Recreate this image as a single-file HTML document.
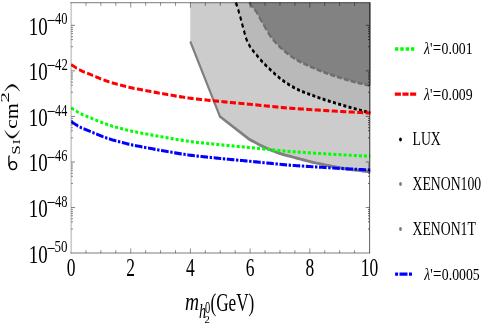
<!DOCTYPE html>
<html><head><meta charset="utf-8"><title>chart</title>
<style>html,body{margin:0;padding:0;background:#fff;}svg{display:block;will-change:transform;}text{font-family:"Liberation Serif",serif;}</style></head>
<body>
<svg width="491" height="327" viewBox="0 0 491 327">
<rect width="491" height="327" fill="#fff"/>
<defs><clipPath id="cp"><rect x="70.15" y="0" width="300.85" height="327"/></clipPath></defs>
<g transform="scale(1 1.4300)">
<path d="M190.30 1.82 L190.30 28.95 L219.90 81.47 L249.30 97.41 L251.10 98.08 L252.89 98.76 L254.68 99.43 L256.47 100.11 L258.26 100.78 L260.07 101.44 L261.89 102.09 L263.74 102.71 L265.62 103.32 L267.55 103.93 L269.52 104.53 L271.50 105.11 L273.47 105.68 L275.41 106.22 L277.29 106.72 L279.10 107.17 L280.80 107.57 L282.37 107.91 L283.87 108.20 L285.34 108.47 L286.85 108.73 L288.44 109.01 L290.17 109.33 L292.05 109.69 L294.04 110.07 L296.13 110.47 L298.28 110.88 L300.47 111.29 L302.68 111.71 L304.89 112.11 L307.06 112.50 L309.19 112.86 L311.30 113.22 L313.41 113.57 L315.52 113.91 L317.64 114.24 L319.75 114.57 L321.86 114.89 L323.98 115.20 L326.10 115.51 L328.21 115.81 L330.29 116.09 L332.36 116.37 L334.42 116.64 L336.50 116.91 L338.61 117.17 L340.75 117.42 L342.95 117.68 L345.22 117.93 L347.57 118.17 L349.98 118.41 L352.45 118.64 L354.97 118.87 L357.51 119.09 L360.08 119.32 L362.65 119.54 L365.22 119.76 L367.78 119.98 L370.30 120.21 L370.80 120.21 L370.80 1.82 L190.30 1.82 Z" fill="#cccccc"/>
<path d="M236.00 1.75 L236.29 2.40 L236.58 3.05 L236.86 3.69 L237.15 4.34 L237.44 4.99 L237.73 5.66 L238.02 6.33 L238.30 7.01 L238.59 7.70 L238.87 8.38 L239.16 9.08 L239.45 9.80 L239.74 10.53 L240.05 11.30 L240.37 12.10 L240.69 12.94 L241.03 13.82 L241.37 14.73 L241.72 15.65 L242.07 16.59 L242.43 17.53 L242.78 18.47 L243.15 19.39 L243.51 20.30 L243.86 21.20 L244.22 22.11 L244.56 23.03 L244.92 23.95 L245.27 24.86 L245.65 25.75 L246.03 26.61 L246.44 27.45 L246.87 28.24 L247.33 29.00 L247.80 29.71 L248.30 30.40 L248.80 31.07 L249.33 31.71 L249.87 32.34 L250.44 32.97 L251.02 33.59 L251.63 34.20 L252.26 34.79 L252.91 35.37 L253.57 35.94 L254.25 36.51 L254.94 37.08 L255.64 37.66 L256.34 38.26 L257.04 38.87 L257.75 39.49 L258.46 40.11 L259.19 40.73 L259.93 41.36 L260.69 41.98 L261.47 42.60 L262.27 43.21 L263.10 43.82 L263.96 44.44 L264.85 45.06 L265.74 45.67 L266.64 46.27 L267.54 46.87 L268.42 47.46 L269.29 48.04 L270.13 48.61 L270.94 49.16 L271.74 49.70 L272.53 50.23 L273.33 50.76 L274.13 51.28 L274.94 51.80 L275.78 52.32 L276.65 52.84 L277.53 53.35 L278.42 53.87 L279.32 54.38 L280.24 54.89 L281.17 55.39 L282.12 55.89 L283.08 56.38 L284.05 56.87 L285.05 57.36 L286.07 57.84 L287.10 58.33 L288.15 58.80 L289.20 59.27 L290.25 59.73 L291.30 60.17 L292.34 60.60 L293.37 61.00 L294.39 61.39 L295.40 61.77 L296.42 62.13 L297.43 62.48 L298.46 62.83 L299.50 63.17 L300.56 63.50 L301.64 63.83 L302.72 64.14 L303.81 64.45 L304.92 64.74 L306.03 65.03 L307.17 65.32 L308.33 65.62 L309.51 65.92 L310.71 66.23 L311.95 66.55 L313.23 66.88 L314.53 67.22 L315.86 67.56 L317.20 67.91 L318.56 68.25 L319.92 68.59 L321.28 68.93 L322.65 69.26 L324.00 69.58 L325.35 69.89 L326.69 70.20 L328.04 70.50 L329.39 70.79 L330.75 71.08 L332.12 71.37 L333.49 71.66 L334.87 71.95 L336.27 72.25 L337.68 72.54 L339.11 72.84 L340.55 73.14 L342.01 73.45 L343.48 73.75 L344.96 74.06 L346.45 74.36 L347.94 74.66 L349.44 74.97 L350.93 75.27 L352.42 75.56 L353.91 75.86 L355.40 76.15 L356.88 76.43 L358.37 76.72 L359.86 77.00 L361.35 77.28 L362.84 77.56 L364.33 77.84 L365.83 78.11 L367.32 78.39 L368.81 78.67 L370.30 78.95 L370.80 78.95 L370.80 1.82 L236.00 1.82 Z" fill="#b9b9b9"/>
<path d="M249.20 1.75 L249.63 2.16 L250.05 2.57 L250.48 2.98 L250.90 3.39 L251.33 3.80 L251.76 4.21 L252.19 4.62 L252.64 5.02 L253.09 5.40 L253.54 5.78 L254.00 6.15 L254.47 6.52 L254.93 6.90 L255.39 7.31 L255.84 7.74 L256.28 8.20 L256.71 8.69 L257.13 9.20 L257.55 9.73 L257.97 10.27 L258.39 10.83 L258.81 11.40 L259.24 11.96 L259.68 12.53 L260.13 13.10 L260.59 13.67 L261.06 14.25 L261.54 14.84 L262.03 15.43 L262.52 16.03 L263.01 16.63 L263.51 17.22 L264.00 17.82 L264.49 18.41 L264.98 19.00 L265.47 19.59 L265.96 20.19 L266.45 20.79 L266.95 21.39 L267.44 21.99 L267.93 22.58 L268.42 23.16 L268.91 23.73 L269.40 24.27 L269.89 24.78 L270.37 25.27 L270.83 25.72 L271.29 26.15 L271.74 26.56 L272.20 26.97 L272.68 27.38 L273.18 27.79 L273.71 28.23 L274.28 28.69 L274.88 29.16 L275.50 29.65 L276.14 30.15 L276.81 30.65 L277.50 31.16 L278.21 31.68 L278.93 32.19 L279.68 32.71 L280.45 33.22 L281.23 33.73 L282.04 34.24 L282.88 34.76 L283.75 35.29 L284.64 35.82 L285.56 36.35 L286.49 36.88 L287.43 37.41 L288.38 37.93 L289.34 38.44 L290.29 38.93 L291.23 39.41 L292.16 39.86 L293.08 40.30 L294.00 40.71 L294.90 41.11 L295.81 41.49 L296.72 41.86 L297.63 42.22 L298.54 42.57 L299.46 42.92 L300.39 43.26 L301.33 43.60 L302.29 43.94 L303.26 44.29 L304.25 44.63 L305.26 44.97 L306.28 45.30 L307.32 45.63 L308.37 45.96 L309.41 46.28 L310.46 46.60 L311.51 46.92 L312.55 47.23 L313.58 47.53 L314.60 47.84 L315.60 48.13 L316.59 48.42 L317.56 48.71 L318.52 48.99 L319.48 49.27 L320.43 49.54 L321.38 49.81 L322.34 50.07 L323.30 50.33 L324.27 50.59 L325.25 50.85 L326.24 51.11 L327.24 51.36 L328.24 51.61 L329.23 51.86 L330.24 52.10 L331.25 52.34 L332.27 52.57 L333.30 52.81 L334.34 53.05 L335.40 53.29 L336.47 53.53 L337.57 53.77 L338.68 54.02 L339.83 54.27 L340.99 54.53 L342.17 54.78 L343.37 55.04 L344.59 55.30 L345.81 55.56 L347.04 55.81 L348.27 56.07 L349.51 56.32 L350.75 56.57 L351.98 56.81 L353.20 57.05 L354.42 57.28 L355.64 57.51 L356.85 57.73 L358.07 57.94 L359.29 58.16 L360.51 58.36 L361.74 58.57 L362.96 58.77 L364.18 58.98 L365.41 59.18 L366.63 59.38 L367.86 59.59 L369.08 59.79 L370.30 60.00 L370.80 60.00 L370.80 1.82 L249.20 1.82 Z" fill="#828282"/>
<path d="M190.30 28.95 L219.90 81.47 L249.30 97.41 L251.10 98.08 L252.89 98.76 L254.68 99.43 L256.47 100.11 L258.26 100.78 L260.07 101.44 L261.89 102.09 L263.74 102.71 L265.62 103.32 L267.55 103.93 L269.52 104.53 L271.50 105.11 L273.47 105.68 L275.41 106.22 L277.29 106.72 L279.10 107.17 L280.80 107.57 L282.37 107.91 L283.87 108.20 L285.34 108.47 L286.85 108.73 L288.44 109.01 L290.17 109.33 L292.05 109.69 L294.04 110.07 L296.13 110.47 L298.28 110.88 L300.47 111.29 L302.68 111.71 L304.89 112.11 L307.06 112.50 L309.19 112.86 L311.30 113.22 L313.41 113.57 L315.52 113.91 L317.64 114.24 L319.75 114.57 L321.86 114.89 L323.98 115.20 L326.10 115.51 L328.21 115.81 L330.29 116.09 L332.36 116.37 L334.42 116.64 L336.50 116.91 L338.61 117.17 L340.75 117.42 L342.95 117.68 L345.22 117.93 L347.57 118.17 L349.98 118.41 L352.45 118.64 L354.97 118.87 L357.51 119.09 L360.08 119.32 L362.65 119.54 L365.22 119.76 L367.78 119.98 L370.30 120.21" fill="none" stroke="#808080" stroke-width="2.1" stroke-linejoin="miter"/>
<path d="M249.20 1.75 L249.63 2.16 L250.05 2.57 L250.48 2.98 L250.90 3.39 L251.33 3.80 L251.76 4.21 L252.19 4.62 L252.64 5.02 L253.09 5.40 L253.54 5.78 L254.00 6.15 L254.47 6.52 L254.93 6.90 L255.39 7.31 L255.84 7.74 L256.28 8.20 L256.71 8.69 L257.13 9.20 L257.55 9.73 L257.97 10.27 L258.39 10.83 L258.81 11.40 L259.24 11.96 L259.68 12.53 L260.13 13.10 L260.59 13.67 L261.06 14.25 L261.54 14.84 L262.03 15.43 L262.52 16.03 L263.01 16.63 L263.51 17.22 L264.00 17.82 L264.49 18.41 L264.98 19.00 L265.47 19.59 L265.96 20.19 L266.45 20.79 L266.95 21.39 L267.44 21.99 L267.93 22.58 L268.42 23.16 L268.91 23.73 L269.40 24.27 L269.89 24.78 L270.37 25.27 L270.83 25.72 L271.29 26.15 L271.74 26.56 L272.20 26.97 L272.68 27.38 L273.18 27.79 L273.71 28.23 L274.28 28.69 L274.88 29.16 L275.50 29.65 L276.14 30.15 L276.81 30.65 L277.50 31.16 L278.21 31.68 L278.93 32.19 L279.68 32.71 L280.45 33.22 L281.23 33.73 L282.04 34.24 L282.88 34.76 L283.75 35.29 L284.64 35.82 L285.56 36.35 L286.49 36.88 L287.43 37.41 L288.38 37.93 L289.34 38.44 L290.29 38.93 L291.23 39.41 L292.16 39.86 L293.08 40.30 L294.00 40.71 L294.90 41.11 L295.81 41.49 L296.72 41.86 L297.63 42.22 L298.54 42.57 L299.46 42.92 L300.39 43.26 L301.33 43.60 L302.29 43.94 L303.26 44.29 L304.25 44.63 L305.26 44.97 L306.28 45.30 L307.32 45.63 L308.37 45.96 L309.41 46.28 L310.46 46.60 L311.51 46.92 L312.55 47.23 L313.58 47.53 L314.60 47.84 L315.60 48.13 L316.59 48.42 L317.56 48.71 L318.52 48.99 L319.48 49.27 L320.43 49.54 L321.38 49.81 L322.34 50.07 L323.30 50.33 L324.27 50.59 L325.25 50.85 L326.24 51.11 L327.24 51.36 L328.24 51.61 L329.23 51.86 L330.24 52.10 L331.25 52.34 L332.27 52.57 L333.30 52.81 L334.34 53.05 L335.40 53.29 L336.47 53.53 L337.57 53.77 L338.68 54.02 L339.83 54.27 L340.99 54.53 L342.17 54.78 L343.37 55.04 L344.59 55.30 L345.81 55.56 L347.04 55.81 L348.27 56.07 L349.51 56.32 L350.75 56.57 L351.98 56.81 L353.20 57.05 L354.42 57.28 L355.64 57.51 L356.85 57.73 L358.07 57.94 L359.29 58.16 L360.51 58.36 L361.74 58.57 L362.96 58.77 L364.18 58.98 L365.41 59.18 L366.63 59.38 L367.86 59.59 L369.08 59.79 L370.30 60.00" fill="none" stroke="#6e6e6e" stroke-width="1.9" stroke-dasharray="5 2"/>
<path d="M236.00 1.75 L236.29 2.40 L236.58 3.05 L236.86 3.69 L237.15 4.34 L237.44 4.99 L237.73 5.66 L238.02 6.33 L238.30 7.01 L238.59 7.70 L238.87 8.38 L239.16 9.08 L239.45 9.80 L239.74 10.53 L240.05 11.30 L240.37 12.10 L240.69 12.94 L241.03 13.82 L241.37 14.73 L241.72 15.65 L242.07 16.59 L242.43 17.53 L242.78 18.47 L243.15 19.39 L243.51 20.30 L243.86 21.20 L244.22 22.11 L244.56 23.03 L244.92 23.95 L245.27 24.86 L245.65 25.75 L246.03 26.61 L246.44 27.45 L246.87 28.24 L247.33 29.00 L247.80 29.71 L248.30 30.40 L248.80 31.07 L249.33 31.71 L249.87 32.34 L250.44 32.97 L251.02 33.59 L251.63 34.20 L252.26 34.79 L252.91 35.37 L253.57 35.94 L254.25 36.51 L254.94 37.08 L255.64 37.66 L256.34 38.26 L257.04 38.87 L257.75 39.49 L258.46 40.11 L259.19 40.73 L259.93 41.36 L260.69 41.98 L261.47 42.60 L262.27 43.21 L263.10 43.82 L263.96 44.44 L264.85 45.06 L265.74 45.67 L266.64 46.27 L267.54 46.87 L268.42 47.46 L269.29 48.04 L270.13 48.61 L270.94 49.16 L271.74 49.70 L272.53 50.23 L273.33 50.76 L274.13 51.28 L274.94 51.80 L275.78 52.32 L276.65 52.84 L277.53 53.35 L278.42 53.87 L279.32 54.38 L280.24 54.89 L281.17 55.39 L282.12 55.89 L283.08 56.38 L284.05 56.87 L285.05 57.36 L286.07 57.84 L287.10 58.33 L288.15 58.80 L289.20 59.27 L290.25 59.73 L291.30 60.17 L292.34 60.60 L293.37 61.00 L294.39 61.39 L295.40 61.77 L296.42 62.13 L297.43 62.48 L298.46 62.83 L299.50 63.17 L300.56 63.50 L301.64 63.83 L302.72 64.14 L303.81 64.45 L304.92 64.74 L306.03 65.03 L307.17 65.32 L308.33 65.62 L309.51 65.92 L310.71 66.23 L311.95 66.55 L313.23 66.88 L314.53 67.22 L315.86 67.56 L317.20 67.91 L318.56 68.25 L319.92 68.59 L321.28 68.93 L322.65 69.26 L324.00 69.58 L325.35 69.89 L326.69 70.20 L328.04 70.50 L329.39 70.79 L330.75 71.08 L332.12 71.37 L333.49 71.66 L334.87 71.95 L336.27 72.25 L337.68 72.54 L339.11 72.84 L340.55 73.14 L342.01 73.45 L343.48 73.75 L344.96 74.06 L346.45 74.36 L347.94 74.66 L349.44 74.97 L350.93 75.27 L352.42 75.56 L353.91 75.86 L355.40 76.15 L356.88 76.43 L358.37 76.72 L359.86 77.00 L361.35 77.28 L362.84 77.56 L364.33 77.84 L365.83 78.11 L367.32 78.39 L368.81 78.67 L370.30 78.95" fill="none" stroke="#000" stroke-width="2.1" stroke-dasharray="3.0 2.3"/>
<g clip-path="url(#cp)">
<path d="M71.30 45.17 L72.80 45.85 L74.31 46.55 L75.81 47.25 L77.31 47.92 L78.81 48.56 L80.32 49.14 L81.82 49.65 L83.32 50.11 L84.82 50.54 L86.33 50.95 L87.83 51.35 L89.33 51.76 L90.83 52.20 L92.34 52.65 L93.84 53.10 L95.34 53.55 L96.84 53.99 L98.35 54.43 L99.85 54.85 L101.35 55.27 L102.85 55.68 L104.36 56.08 L105.86 56.48 L107.36 56.86 L108.86 57.22 L110.37 57.56 L111.87 57.88 L113.37 58.17 L114.87 58.45 L116.38 58.72 L117.88 58.99 L119.38 59.26 L120.88 59.54 L122.39 59.82 L123.89 60.10 L125.39 60.38 L126.89 60.66 L128.40 60.92 L129.90 61.17 L131.40 61.41 L132.90 61.63 L134.41 61.84 L135.91 62.04 L137.41 62.24 L138.91 62.44 L140.42 62.64 L141.92 62.85 L143.42 63.05 L144.92 63.25 L146.43 63.45 L147.93 63.65 L149.43 63.84 L150.93 64.04 L152.44 64.23 L153.94 64.42 L155.44 64.60 L156.94 64.79 L158.45 64.98 L159.95 65.17 L161.45 65.36 L162.95 65.55 L164.46 65.74 L165.96 65.93 L167.46 66.12 L168.96 66.31 L170.47 66.49 L171.97 66.67 L173.47 66.85 L174.97 67.03 L176.48 67.21 L177.98 67.39 L179.48 67.56 L180.98 67.73 L182.49 67.90 L183.99 68.06 L185.49 68.22 L186.99 68.38 L188.50 68.53 L190.00 68.67 L191.50 68.81 L193.00 68.94 L194.51 69.07 L196.01 69.19 L197.51 69.31 L199.01 69.42 L200.52 69.53 L202.02 69.64 L203.52 69.75 L205.02 69.85 L206.53 69.96 L208.03 70.07 L209.53 70.18 L211.03 70.29 L212.54 70.39 L214.04 70.50 L215.54 70.61 L217.04 70.72 L218.55 70.82 L220.05 70.93 L221.55 71.03 L223.05 71.13 L224.56 71.24 L226.06 71.34 L227.56 71.44 L229.06 71.54 L230.57 71.65 L232.07 71.75 L233.57 71.85 L235.07 71.95 L236.58 72.05 L238.08 72.15 L239.58 72.25 L241.08 72.34 L242.59 72.44 L244.09 72.54 L245.59 72.64 L247.09 72.74 L248.60 72.84 L250.10 72.94 L251.60 73.05 L253.10 73.15 L254.61 73.26 L256.11 73.36 L257.61 73.47 L259.11 73.57 L260.62 73.68 L262.12 73.79 L263.62 73.89 L265.12 74.00 L266.63 74.10 L268.13 74.21 L269.63 74.31 L271.13 74.41 L272.64 74.52 L274.14 74.62 L275.64 74.73 L277.14 74.83 L278.65 74.94 L280.15 75.04 L281.65 75.15 L283.15 75.25 L284.66 75.34 L286.16 75.44 L287.66 75.53 L289.16 75.62 L290.67 75.70 L292.17 75.78 L293.67 75.85 L295.17 75.93 L296.68 76.00 L298.18 76.07 L299.68 76.14 L301.18 76.21 L302.69 76.28 L304.19 76.35 L305.69 76.42 L307.19 76.49 L308.70 76.56 L310.20 76.63 L311.70 76.69 L313.20 76.76 L314.71 76.83 L316.21 76.90 L317.71 76.96 L319.21 77.03 L320.72 77.09 L322.22 77.16 L323.72 77.23 L325.22 77.29 L326.73 77.36 L328.23 77.42 L329.73 77.49 L331.23 77.55 L332.74 77.61 L334.24 77.68 L335.74 77.74 L337.24 77.80 L338.75 77.86 L340.25 77.92 L341.75 77.98 L343.25 78.04 L344.76 78.10 L346.26 78.16 L347.76 78.22 L349.26 78.27 L350.77 78.33 L352.27 78.38 L353.77 78.44 L355.27 78.49 L356.78 78.55 L358.28 78.60 L359.78 78.65 L361.28 78.70 L362.79 78.76 L364.29 78.81 L365.79 78.86 L367.29 78.91 L368.80 78.97 L370.30 79.02" fill="none" stroke="#ff0000" stroke-width="2.15" stroke-dasharray="6.1 2.4"/>
<path d="M71.30 75.45 L72.80 76.13 L74.31 76.83 L75.81 77.52 L77.31 78.20 L78.81 78.84 L80.32 79.42 L81.82 79.93 L83.32 80.39 L84.82 80.82 L86.33 81.23 L87.83 81.63 L89.33 82.04 L90.83 82.48 L92.34 82.93 L93.84 83.38 L95.34 83.83 L96.84 84.27 L98.35 84.71 L99.85 85.13 L101.35 85.55 L102.85 85.96 L104.36 86.36 L105.86 86.76 L107.36 87.14 L108.86 87.50 L110.37 87.84 L111.87 88.16 L113.37 88.45 L114.87 88.73 L116.38 89.00 L117.88 89.27 L119.38 89.54 L120.88 89.81 L122.39 90.10 L123.89 90.38 L125.39 90.66 L126.89 90.94 L128.40 91.20 L129.90 91.45 L131.40 91.69 L132.90 91.91 L134.41 92.12 L135.91 92.32 L137.41 92.52 L138.91 92.72 L140.42 92.92 L141.92 93.13 L143.42 93.33 L144.92 93.53 L146.43 93.73 L147.93 93.93 L149.43 94.12 L150.93 94.32 L152.44 94.51 L153.94 94.70 L155.44 94.88 L156.94 95.07 L158.45 95.26 L159.95 95.45 L161.45 95.64 L162.95 95.83 L164.46 96.02 L165.96 96.21 L167.46 96.40 L168.96 96.59 L170.47 96.77 L171.97 96.95 L173.47 97.13 L174.97 97.31 L176.48 97.49 L177.98 97.67 L179.48 97.84 L180.98 98.01 L182.49 98.18 L183.99 98.34 L185.49 98.50 L186.99 98.66 L188.50 98.81 L190.00 98.95 L191.50 99.09 L193.00 99.22 L194.51 99.35 L196.01 99.47 L197.51 99.59 L199.01 99.70 L200.52 99.81 L202.02 99.92 L203.52 100.03 L205.02 100.13 L206.53 100.24 L208.03 100.35 L209.53 100.46 L211.03 100.57 L212.54 100.67 L214.04 100.78 L215.54 100.89 L217.04 101.00 L218.55 101.10 L220.05 101.21 L221.55 101.31 L223.05 101.41 L224.56 101.52 L226.06 101.62 L227.56 101.72 L229.06 101.82 L230.57 101.93 L232.07 102.03 L233.57 102.13 L235.07 102.23 L236.58 102.33 L238.08 102.43 L239.58 102.53 L241.08 102.62 L242.59 102.72 L244.09 102.82 L245.59 102.92 L247.09 103.02 L248.60 103.12 L250.10 103.22 L251.60 103.33 L253.10 103.43 L254.61 103.54 L256.11 103.64 L257.61 103.75 L259.11 103.85 L260.62 103.96 L262.12 104.07 L263.62 104.17 L265.12 104.28 L266.63 104.38 L268.13 104.49 L269.63 104.59 L271.13 104.69 L272.64 104.80 L274.14 104.90 L275.64 105.01 L277.14 105.11 L278.65 105.22 L280.15 105.32 L281.65 105.43 L283.15 105.53 L284.66 105.62 L286.16 105.72 L287.66 105.81 L289.16 105.90 L290.67 105.98 L292.17 106.06 L293.67 106.13 L295.17 106.21 L296.68 106.28 L298.18 106.35 L299.68 106.42 L301.18 106.49 L302.69 106.56 L304.19 106.63 L305.69 106.70 L307.19 106.77 L308.70 106.84 L310.20 106.91 L311.70 106.97 L313.20 107.04 L314.71 107.11 L316.21 107.18 L317.71 107.24 L319.21 107.31 L320.72 107.37 L322.22 107.44 L323.72 107.51 L325.22 107.57 L326.73 107.64 L328.23 107.70 L329.73 107.76 L331.23 107.83 L332.74 107.89 L334.24 107.96 L335.74 108.02 L337.24 108.08 L338.75 108.14 L340.25 108.20 L341.75 108.26 L343.25 108.32 L344.76 108.38 L346.26 108.44 L347.76 108.50 L349.26 108.55 L350.77 108.61 L352.27 108.66 L353.77 108.72 L355.27 108.77 L356.78 108.82 L358.28 108.88 L359.78 108.93 L361.28 108.98 L362.79 109.04 L364.29 109.09 L365.79 109.14 L367.29 109.19 L368.80 109.25 L370.30 109.30" fill="none" stroke="#00ff00" stroke-width="2.15" stroke-dasharray="3 2.1"/>
<path d="M71.30 85.03 L72.80 85.71 L74.31 86.41 L75.81 87.11 L77.31 87.78 L78.81 88.42 L80.32 89.00 L81.82 89.51 L83.32 89.97 L84.82 90.40 L86.33 90.81 L87.83 91.21 L89.33 91.62 L90.83 92.06 L92.34 92.51 L93.84 92.96 L95.34 93.41 L96.84 93.85 L98.35 94.29 L99.85 94.71 L101.35 95.13 L102.85 95.54 L104.36 95.94 L105.86 96.34 L107.36 96.72 L108.86 97.08 L110.37 97.42 L111.87 97.74 L113.37 98.03 L114.87 98.31 L116.38 98.58 L117.88 98.85 L119.38 99.12 L120.88 99.40 L122.39 99.68 L123.89 99.96 L125.39 100.24 L126.89 100.52 L128.40 100.78 L129.90 101.03 L131.40 101.27 L132.90 101.49 L134.41 101.70 L135.91 101.90 L137.41 102.10 L138.91 102.30 L140.42 102.50 L141.92 102.71 L143.42 102.91 L144.92 103.11 L146.43 103.31 L147.93 103.51 L149.43 103.70 L150.93 103.90 L152.44 104.09 L153.94 104.28 L155.44 104.47 L156.94 104.65 L158.45 104.84 L159.95 105.03 L161.45 105.22 L162.95 105.41 L164.46 105.60 L165.96 105.79 L167.46 105.98 L168.96 106.17 L170.47 106.35 L171.97 106.53 L173.47 106.71 L174.97 106.89 L176.48 107.07 L177.98 107.25 L179.48 107.42 L180.98 107.59 L182.49 107.76 L183.99 107.92 L185.49 108.08 L186.99 108.24 L188.50 108.39 L190.00 108.53 L191.50 108.67 L193.00 108.80 L194.51 108.93 L196.01 109.05 L197.51 109.17 L199.01 109.28 L200.52 109.39 L202.02 109.50 L203.52 109.61 L205.02 109.71 L206.53 109.82 L208.03 109.93 L209.53 110.04 L211.03 110.15 L212.54 110.25 L214.04 110.36 L215.54 110.47 L217.04 110.58 L218.55 110.68 L220.05 110.79 L221.55 110.89 L223.05 110.99 L224.56 111.10 L226.06 111.20 L227.56 111.30 L229.06 111.40 L230.57 111.51 L232.07 111.61 L233.57 111.71 L235.07 111.81 L236.58 111.91 L238.08 112.01 L239.58 112.11 L241.08 112.20 L242.59 112.30 L244.09 112.40 L245.59 112.50 L247.09 112.60 L248.60 112.70 L250.10 112.80 L251.60 112.91 L253.10 113.01 L254.61 113.12 L256.11 113.22 L257.61 113.33 L259.11 113.43 L260.62 113.54 L262.12 113.65 L263.62 113.75 L265.12 113.86 L266.63 113.96 L268.13 114.07 L269.63 114.17 L271.13 114.27 L272.64 114.38 L274.14 114.48 L275.64 114.59 L277.14 114.69 L278.65 114.80 L280.15 114.90 L281.65 115.01 L283.15 115.11 L284.66 115.20 L286.16 115.30 L287.66 115.39 L289.16 115.48 L290.67 115.56 L292.17 115.64 L293.67 115.71 L295.17 115.79 L296.68 115.86 L298.18 115.93 L299.68 116.00 L301.18 116.07 L302.69 116.14 L304.19 116.21 L305.69 116.28 L307.19 116.35 L308.70 116.42 L310.20 116.49 L311.70 116.56 L313.20 116.62 L314.71 116.69 L316.21 116.76 L317.71 116.82 L319.21 116.89 L320.72 116.95 L322.22 117.02 L323.72 117.09 L325.22 117.15 L326.73 117.22 L328.23 117.28 L329.73 117.35 L331.23 117.41 L332.74 117.47 L334.24 117.54 L335.74 117.60 L337.24 117.66 L338.75 117.72 L340.25 117.78 L341.75 117.84 L343.25 117.90 L344.76 117.96 L346.26 118.02 L347.76 118.08 L349.26 118.13 L350.77 118.19 L352.27 118.24 L353.77 118.30 L355.27 118.35 L356.78 118.41 L358.28 118.46 L359.78 118.51 L361.28 118.56 L362.79 118.62 L364.29 118.67 L365.79 118.72 L367.29 118.77 L368.80 118.83 L370.30 118.88" fill="none" stroke="#0000ff" stroke-width="2.15" stroke-dasharray="7.6 1.6 2.4 1.6"/>
</g>
<path d="M395.0 34.27 h19.4" stroke="#00ff00" stroke-width="2.3" stroke-dasharray="3.4 1.9" fill="none"/>
<path d="M394.8 65.87 h21.6" stroke="#ff0000" stroke-width="2.2" stroke-dasharray="6.1 1.55" fill="none"/>
<circle cx="400.5" cy="97.48" r="1.4" fill="#000"/>
<circle cx="400.5" cy="128.60" r="1.4" fill="#7a7a7a"/>
<circle cx="400.5" cy="160.14" r="1.4" fill="#7a7a7a"/>
<path d="M395.1 191.68 h3 m1.4 0 h8 m1.5 0 h3" stroke="#0000ff" stroke-width="2.3" fill="none"/>
</g>
<path d="M71.20 2.60 L71.20 253.10" stroke="#000" stroke-opacity="0.20" stroke-width="1.70" fill="none"/>
<path d="M369.60 2.60 L369.60 253.10" stroke="#000" stroke-opacity="0.62" stroke-width="1.00" fill="none"/>
<path d="M70.35 2.60 L370.10 2.60" stroke="#000" stroke-opacity="0.42" stroke-width="1.30" fill="none"/>
<path d="M70.35 253.10 L370.10 253.10" stroke="#000" stroke-opacity="0.35" stroke-width="1.50" fill="none"/>
<path d="M85.97 253.10 v-3.00 M85.97 2.60 v3.30 M100.89 253.10 v-3.00 M100.89 2.60 v3.30 M115.82 253.10 v-3.00 M115.82 2.60 v3.30 M130.74 253.10 v-4.70 M130.74 2.60 v5.00 M145.66 253.10 v-3.00 M145.66 2.60 v3.30 M160.58 253.10 v-3.00 M160.58 2.60 v3.30 M175.51 253.10 v-3.00 M175.51 2.60 v3.30 M190.43 253.10 v-4.70 M190.43 2.60 v5.00 M205.35 253.10 v-3.00 M205.35 2.60 v3.30 M220.27 253.10 v-3.00 M220.27 2.60 v3.30 M235.20 253.10 v-3.00 M235.20 2.60 v3.30 M250.12 253.10 v-4.70 M250.12 2.60 v5.00 M265.04 253.10 v-3.00 M265.04 2.60 v3.30 M279.97 253.10 v-3.00 M279.97 2.60 v3.30 M294.89 253.10 v-3.00 M294.89 2.60 v3.30 M309.81 253.10 v-4.70 M309.81 2.60 v5.00 M324.73 253.10 v-3.00 M324.73 2.60 v3.30 M339.65 253.10 v-3.00 M339.65 2.60 v3.30 M354.58 253.10 v-3.00 M354.58 2.60 v3.30" stroke="#000" stroke-opacity="0.48" stroke-width="0.9" fill="none"/>
<path d="M71.25 207.54 h3.7 M369.50 207.54 h-3.7 M71.25 161.98 h3.7 M369.50 161.98 h-3.7 M71.25 116.42 h3.7 M369.50 116.42 h-3.7 M71.25 70.86 h3.7 M369.50 70.86 h-3.7 M71.25 25.30 h3.7 M369.50 25.30 h-3.7" stroke="#000" stroke-opacity="0.5" stroke-width="1.0" fill="none"/>
<path d="M71.45 209.54 h1.3 M369.30 209.54 h-1.3 M71.45 211.64 h1.3 M369.30 211.64 h-1.3 M71.45 213.64 h1.3 M369.30 213.64 h-1.3 M71.45 215.84 h1.3 M369.30 215.84 h-1.3 M71.45 218.84 h1.3 M369.30 218.84 h-1.3 M71.45 221.84 h1.3 M369.30 221.84 h-1.3 M71.45 228.94 h1.3 M369.30 228.94 h-1.3 M71.45 163.98 h1.3 M369.30 163.98 h-1.3 M71.45 166.08 h1.3 M369.30 166.08 h-1.3 M71.45 168.08 h1.3 M369.30 168.08 h-1.3 M71.45 170.28 h1.3 M369.30 170.28 h-1.3 M71.45 173.28 h1.3 M369.30 173.28 h-1.3 M71.45 176.28 h1.3 M369.30 176.28 h-1.3 M71.45 183.38 h1.3 M369.30 183.38 h-1.3 M71.45 118.42 h1.3 M369.30 118.42 h-1.3 M71.45 120.52 h1.3 M369.30 120.52 h-1.3 M71.45 122.52 h1.3 M369.30 122.52 h-1.3 M71.45 124.72 h1.3 M369.30 124.72 h-1.3 M71.45 127.72 h1.3 M369.30 127.72 h-1.3 M71.45 130.72 h1.3 M369.30 130.72 h-1.3 M71.45 137.82 h1.3 M369.30 137.82 h-1.3 M71.45 72.86 h1.3 M369.30 72.86 h-1.3 M71.45 74.96 h1.3 M369.30 74.96 h-1.3 M71.45 76.96 h1.3 M369.30 76.96 h-1.3 M71.45 79.16 h1.3 M369.30 79.16 h-1.3 M71.45 82.16 h1.3 M369.30 82.16 h-1.3 M71.45 85.16 h1.3 M369.30 85.16 h-1.3 M71.45 92.26 h1.3 M369.30 92.26 h-1.3 M71.45 27.30 h1.3 M369.30 27.30 h-1.3 M71.45 29.40 h1.3 M369.30 29.40 h-1.3 M71.45 31.40 h1.3 M369.30 31.40 h-1.3 M71.45 33.60 h1.3 M369.30 33.60 h-1.3 M71.45 36.60 h1.3 M369.30 36.60 h-1.3 M71.45 39.60 h1.3 M369.30 39.60 h-1.3 M71.45 46.70 h1.3 M369.30 46.70 h-1.3" stroke="#000" stroke-opacity="0.7" stroke-width="0.9" fill="none"/>
<text transform="translate(28.66 34.75) scale(1 1.342)" font-family="Liberation Serif, serif" font-size="18.94" text-anchor="start" fill="#000">10</text>
<text transform="translate(46.83 26.93) scale(1 1.296)" font-family="Liberation Serif, serif" font-size="15.43" text-anchor="start" fill="#000">−</text>
<text transform="translate(55.05 24.33) scale(1 1.359)" font-family="Liberation Serif, serif" font-size="12.51" text-anchor="start" fill="#000">40</text>
<text transform="translate(28.66 80.31) scale(1 1.342)" font-family="Liberation Serif, serif" font-size="18.94" text-anchor="start" fill="#000">10</text>
<text transform="translate(46.83 72.49) scale(1 1.296)" font-family="Liberation Serif, serif" font-size="15.43" text-anchor="start" fill="#000">−</text>
<text transform="translate(55.04 70.06) scale(1 1.357)" font-family="Liberation Serif, serif" font-size="12.78" text-anchor="start" fill="#000">42</text>
<text transform="translate(28.66 125.87) scale(1 1.342)" font-family="Liberation Serif, serif" font-size="18.94" text-anchor="start" fill="#000">10</text>
<text transform="translate(46.83 118.05) scale(1 1.296)" font-family="Liberation Serif, serif" font-size="15.43" text-anchor="start" fill="#000">−</text>
<text transform="translate(55.06 115.62) scale(1 1.430)" font-family="Liberation Serif, serif" font-size="12.25" text-anchor="start" fill="#000">44</text>
<text transform="translate(28.66 171.43) scale(1 1.342)" font-family="Liberation Serif, serif" font-size="18.94" text-anchor="start" fill="#000">10</text>
<text transform="translate(46.83 163.61) scale(1 1.296)" font-family="Liberation Serif, serif" font-size="15.43" text-anchor="start" fill="#000">−</text>
<text transform="translate(55.05 161.01) scale(1 1.375)" font-family="Liberation Serif, serif" font-size="12.42" text-anchor="start" fill="#000">46</text>
<text transform="translate(28.66 216.99) scale(1 1.342)" font-family="Liberation Serif, serif" font-size="18.94" text-anchor="start" fill="#000">10</text>
<text transform="translate(46.83 209.17) scale(1 1.296)" font-family="Liberation Serif, serif" font-size="15.43" text-anchor="start" fill="#000">−</text>
<text transform="translate(55.05 206.57) scale(1 1.359)" font-family="Liberation Serif, serif" font-size="12.51" text-anchor="start" fill="#000">48</text>
<text transform="translate(28.66 262.55) scale(1 1.342)" font-family="Liberation Serif, serif" font-size="18.94" text-anchor="start" fill="#000">10</text>
<text transform="translate(46.83 254.73) scale(1 1.296)" font-family="Liberation Serif, serif" font-size="15.43" text-anchor="start" fill="#000">−</text>
<text transform="translate(54.56 252.13) scale(1 1.306)" font-family="Liberation Serif, serif" font-size="13.01" text-anchor="start" fill="#000">50</text>
<text transform="translate(71.05 275.90) scale(1 1.430)" font-family="Liberation Serif, serif" font-size="17.50" text-anchor="middle" fill="#000">0</text>
<text transform="translate(130.74 275.90) scale(1 1.430)" font-family="Liberation Serif, serif" font-size="17.50" text-anchor="middle" fill="#000">2</text>
<text transform="translate(190.43 275.90) scale(1 1.430)" font-family="Liberation Serif, serif" font-size="17.50" text-anchor="middle" fill="#000">4</text>
<text transform="translate(250.12 275.90) scale(1 1.430)" font-family="Liberation Serif, serif" font-size="17.50" text-anchor="middle" fill="#000">6</text>
<text transform="translate(309.81 275.90) scale(1 1.430)" font-family="Liberation Serif, serif" font-size="17.50" text-anchor="middle" fill="#000">8</text>
<text transform="translate(369.50 275.90) scale(1 1.430)" font-family="Liberation Serif, serif" font-size="17.50" text-anchor="middle" fill="#000">10</text>
<text transform="translate(184.90 310.40) scale(1 1.290)" font-family="Liberation Serif, serif" font-size="19.50" text-anchor="start" fill="#000" font-style="italic">m</text>
<text transform="translate(199.00 317.70) scale(1 1.500)" font-family="Liberation Serif, serif" font-size="14.30" text-anchor="start" fill="#000" font-style="italic">h</text>
<text transform="translate(204.90 312.50) scale(1 1.600)" font-family="Liberation Serif, serif" font-size="10.50" text-anchor="start" fill="#000">0</text>
<text transform="translate(204.50 322.80) scale(1 1.000)" font-family="Liberation Serif, serif" font-size="10.60" text-anchor="start" fill="#000">2</text>
<text transform="translate(210.40 310.50) scale(1 1.430)" font-family="Liberation Serif, serif" font-size="17.20" text-anchor="start" fill="#000">(GeV)</text>
<text transform="translate(9.20 102.73) scale(1 1.783) rotate(-90)" font-family="Liberation Serif, serif" font-size="12.06" text-anchor="start" fill="#000">2</text>
<text transform="translate(17.70 118.90) scale(1 1.116) rotate(-90)" font-family="Liberation Serif, serif" font-size="18.09" text-anchor="start" fill="#000">m</text>
<text transform="translate(17.33 128.68) scale(1 1.228) rotate(-90)" font-family="Liberation Serif, serif" font-size="17.29" text-anchor="start" fill="#000">c</text>
<text transform="translate(19.60 144.58) scale(1 1.392) rotate(-90)" font-family="Liberation Serif, serif" font-size="11.33" text-anchor="start" fill="#000">I</text>
<text transform="translate(19.68 154.84) scale(1 1.440) rotate(-90)" font-family="Liberation Serif, serif" font-size="11.88" text-anchor="start" fill="#000">S</text>
<path d="M4.80 91.00 Q12.25 77.60 19.70 91.00 Q12.25 81.60 4.80 91.00 Z" fill="#000" stroke="#000" stroke-width="0.35" stroke-linejoin="round"/>
<path d="M4.80 130.50 Q12.15 146.10 19.50 130.50 Q12.15 142.10 4.80 130.50 Z" fill="#000" stroke="#000" stroke-width="0.35" stroke-linejoin="round"/>
<ellipse cx="13.0" cy="165.6" rx="3.65" ry="3.95" fill="none" stroke="#000" stroke-width="1.45"/>
<path d="M9.6 155.6 Q8.7 156.0 8.85 158 L8.95 165.8" fill="none" stroke="#000" stroke-width="1.25" stroke-linecap="butt"/>
<text transform="translate(423.90 54.40) scale(1 1.280)" font-family="Liberation Serif, serif" font-size="13.80" text-anchor="start" fill="#000"><tspan font-style="italic">λ</tspan>'<tspan dx="0.4" font-size="15">=</tspan><tspan dx="0.3">0.001</tspan></text>
<text transform="translate(423.90 99.60) scale(1 1.280)" font-family="Liberation Serif, serif" font-size="13.80" text-anchor="start" fill="#000"><tspan font-style="italic">λ</tspan>'<tspan dx="0.4" font-size="15">=</tspan><tspan dx="0.3">0.009</tspan></text>
<text transform="translate(412.50 144.80) scale(1 1.375)" font-family="Liberation Serif, serif" font-size="13.76" text-anchor="start" fill="#000">LUX</text>
<text transform="translate(412.50 189.80) scale(1 1.375)" font-family="Liberation Serif, serif" font-size="13.76" text-anchor="start" fill="#000">XENON100</text>
<text transform="translate(412.50 234.80) scale(1 1.375)" font-family="Liberation Serif, serif" font-size="13.76" text-anchor="start" fill="#000">XENON1T</text>
<text transform="translate(424.20 279.60) scale(1 1.280)" font-family="Liberation Serif, serif" font-size="13.80" text-anchor="start" fill="#000"><tspan font-style="italic">λ</tspan>'<tspan dx="0.4" font-size="15">=</tspan><tspan dx="0.3">0.0005</tspan></text>
</svg>
</body></html>
